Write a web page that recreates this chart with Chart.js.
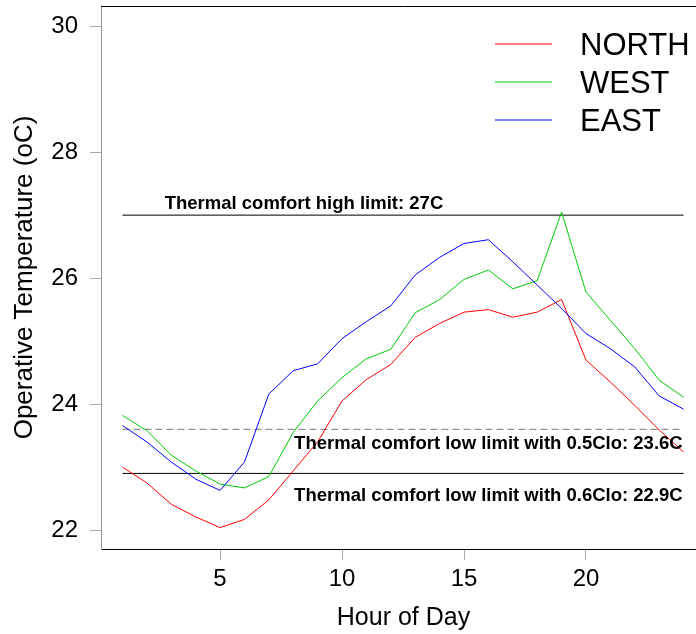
<!DOCTYPE html>
<html>
<head>
<meta charset="utf-8">
<script src="https://cdn.jsdelivr.net/npm/chart.js@4.4.1/dist/chart.umd.min.js"></script>
<style>
  html, body { margin: 0; padding: 0; background: #fff; overflow: hidden; }
  #wrap { width: 720px; height: 634px; }
</style>
</head>
<body>
<div id="wrap"><canvas id="chart" width="720" height="634"></canvas></div>
<script>
// Hourly operative temperature per orientation
const hours = [1, 2, 3, 4, 5, 6, 7, 8, 9, 10, 11, 12, 13, 14, 15, 16, 17, 18, 19, 20, 21, 22, 23, 24];
const north = [23.00, 22.75, 22.41, 22.21, 22.04, 22.17, 22.48, 22.94, 23.40, 24.05, 24.39, 24.63, 25.06, 25.28,
               25.46, 25.50, 25.38, 25.46, 25.66, 24.70, 24.35, 23.98, 23.59, 23.24];
const west  = [23.82, 23.58, 23.19, 22.94, 22.73, 22.67, 22.85, 23.55, 24.05, 24.42, 24.72, 24.87, 25.45, 25.66,
               25.98, 26.13, 25.83, 25.96, 27.05, 25.78, 25.33, 24.88, 24.38, 24.11];
const east  = [23.66, 23.40, 23.08, 22.81, 22.63, 23.08, 24.16, 24.53, 24.64, 25.04, 25.31, 25.56, 26.05, 26.33,
               26.55, 26.61, 26.26, 25.89, 25.52, 25.12, 24.88, 24.59, 24.13, 23.92];
const seriesNames = ['NORTH', 'WEST', 'EAST'];

// Comfort limits
const limitValues = [27, 23.6, 22.9];
const limitTexts = [
  'Thermal comfort high limit: 27C',
  'Thermal comfort low limit with 0.5Clo: 23.6C',
  'Thermal comfort low limit with 0.6Clo: 22.9C'
];

const xTicks = [5, 10, 15, 20];
const yTicks = [22, 24, 26, 28, 30];

const FONT = "'Liberation Sans', Arial, sans-serif";
const colors = ['#ff0000', '#00cc00', '#0000ff'];

function toPoints(vals) { return hours.map((h, i) => ({ x: h, y: vals[i] })); }
function limitLine(v) { return [{ x: hours[0], y: v }, { x: hours[hours.length - 1], y: v }]; }

const datasets = [north, west, east].map((vals, i) => ({
  label: seriesNames[i],
  data: toPoints(vals),
  borderColor: colors[i],
  borderWidth: 1,
  pointRadius: 0,
  tension: 0,
  order: 3 - i
}));
limitValues.forEach((v, i) => {
  datasets.push({
    label: 'limit' + i,
    data: limitLine(v),
    borderColor: i === 1 ? '#777' : '#000',
    borderDash: i === 1 ? [7, 4] : [],
    borderWidth: 1,
    pointRadius: 0,
    order: 10
  });
});

// where the limit captions sit (data coords)
const captionPos = [[8.44, 27.18], [16.0, 23.37], [16.0, 22.54]];

const extras = {
  id: 'extras',
  afterDraw(chart) {
    const { ctx, chartArea, scales } = chart;
    ctx.save();
    // top frame line
    ctx.strokeStyle = '#000';
    ctx.lineWidth = 1;
    ctx.beginPath();
    ctx.moveTo(chartArea.left, chartArea.top + 0.5);
    ctx.lineTo(chartArea.right, chartArea.top + 0.5);
    ctx.stroke();

    // captions
    ctx.fillStyle = '#000';
    ctx.font = 'bold 18.5px ' + FONT;
    ctx.textAlign = 'center';
    ctx.textBaseline = 'middle';
    limitTexts.forEach((t, i) => {
      ctx.fillText(t, scales.x.getPixelForValue(captionPos[i][0]), scales.y.getPixelForValue(captionPos[i][1]));
    });

    // legend
    ctx.font = '31px ' + FONT;
    ctx.textAlign = 'left';
    ctx.textBaseline = 'alphabetic';
    seriesNames.forEach((name, i) => {
      const y = 44 + i * 38;
      ctx.strokeStyle = colors[i];
      ctx.beginPath();
      ctx.moveTo(495, y);
      ctx.lineTo(552, y);
      ctx.stroke();
      ctx.fillStyle = '#000';
      ctx.fillText(name, 580, y + 11);
    });
    ctx.restore();
  }
};

new Chart(document.getElementById('chart'), {
  type: 'line',
  data: { datasets },
  options: {
    responsive: false,
    animation: false,
    devicePixelRatio: 1,
    layout: { padding: { top: 6, right: 14, left: 0, bottom: 0 } },
    plugins: { legend: { display: false }, tooltip: { enabled: false } },
    scales: {
      x: {
        type: 'linear',
        min: 0.12,
        max: 24.92,
        afterFit(s) { s.height = 85; s.paddingLeft = 0; s.paddingRight = 0; },
        afterBuildTicks(s) { s.ticks = xTicks.map(v => ({ value: v })); },
        border: { display: true, color: '#000', width: 1 },
        grid: { drawOnChartArea: false, drawTicks: true, tickLength: 11, tickColor: '#aaa' },
        ticks: { font: { family: FONT, size: 24 }, color: '#000', padding: 5, maxRotation: 0, autoSkip: false },
        title: { display: true, text: 'Hour of Day', font: { family: FONT, size: 25 }, color: '#000', padding: { top: 0, bottom: 1 } }
      },
      y: {
        type: 'linear',
        min: 21.70,
        max: 30.32,
        afterFit(s) { s.width = 101; s.paddingTop = 0; s.paddingBottom = 0; },
        afterBuildTicks(s) { s.ticks = yTicks.map(v => ({ value: v })); },
        border: { display: true, color: '#999', width: 1 },
        grid: { drawOnChartArea: false, drawTicks: true, tickLength: 11, tickColor: '#aaa' },
        ticks: { font: { family: FONT, size: 24 }, color: '#000', padding: 12, autoSkip: false },
        title: { display: true, text: 'Operative Temperature (oC)', font: { family: FONT, size: 26 }, color: '#000', padding: { top: 9, bottom: 0 } }
      }
    }
  },
  plugins: [extras]
});
</script>
</body>
</html>
